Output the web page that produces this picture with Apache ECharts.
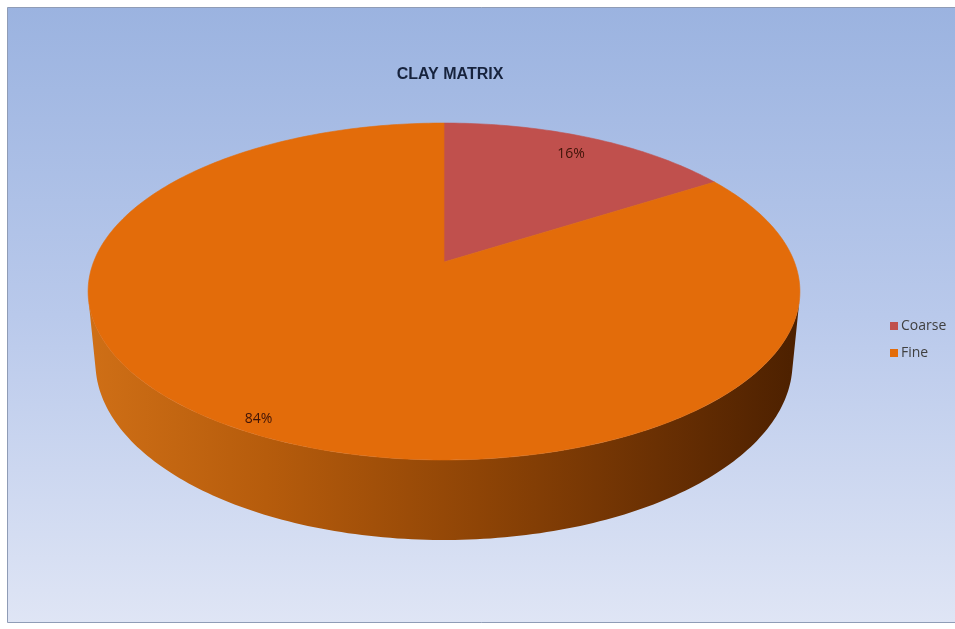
<!DOCTYPE html>
<html>
<head>
<meta charset="utf-8">
<script src="https://cdn.jsdelivr.net/npm/echarts@6/dist/echarts.min.js"></script>
<style>
  html, body { margin: 0; padding: 0; background: #ffffff; }
  #chart { width: 955px; height: 629px; }
</style>
</head>
<body>
<div id="chart"></div>
<script>
// Clay matrix composition
const categories = ['Coarse', 'Fine'];
const shares = [16, 84];
const sliceColors = ['#c0504d', '#e36c0a'];
const chartTitle = 'CLAY MATRIX';

// Perspective view of the disc (tilted cylinder seen from above-front)
const view = {
  cx: 444, cy: 262,      // projected centre of the top face
  fx: 1778, fy: 1806,    // focal scales
  dist: 5.074,           // camera distance in disc radii
  sinT: 0.4588,          // sine of camera elevation
  depth: 0.2267,         // cylinder thickness in disc radii
  labelRadius: [0.85, 0.94]
};
view.cosT = Math.sqrt(1 - view.sinT * view.sinT);

// angle in degrees, clockwise from the far side of the disc
function project(angle, r, h) {
  const a = angle * Math.PI / 180;
  const x = r * Math.sin(a), y = r * Math.cos(a);
  const w = y * view.sinT + h * view.cosT;
  const z = view.dist + y * view.cosT - h * view.sinT;
  return [view.cx + view.fx * x / z, view.cy - view.fy * w / z];
}

function arc(a0, a1, h) {
  const pts = [];
  const n = Math.max(2, Math.ceil(Math.abs(a1 - a0)));
  for (let i = 0; i <= n; i++) pts.push(project(a0 + (a1 - a0) * i / n, 1, h));
  return pts;
}

const total = shares.reduce((s, v) => s + v, 0);
// visible range of the outer wall
const wallLimit = Math.acos(-1 / (view.dist * view.cosT)) * 180 / Math.PI;

function makeRender(idx) {
  return function (params, api) {
    let before = 0;
    for (let i = 0; i < idx; i++) before += shares[i];
    const value = api.value(0);
    const start = before / total * 360;
    const end = start + value / total * 360;
    const children = [];

    // top face
    const top = [project(0, 0, 0)].concat(arc(start, end, 0));
    children.push({
      type: 'polygon', z2: 2,
      shape: { points: top },
      style: { fill: sliceColors[idx], stroke: sliceColors[idx], lineWidth: 0.6 }
    });

    // front wall
    const w0 = Math.max(start, wallLimit), w1 = Math.min(end, 360 - wallLimit);
    if (w1 > w0) {
      const wall = arc(w0, w1, 0).concat(arc(w1, w0, -view.depth));
      children.push({
        type: 'polygon', z2: 1,
        shape: { points: wall },
        style: {
          fill: new echarts.graphic.LinearGradient(0, 0, 1, 0, [
            { offset: 0, color: '#cf6f16' },
            { offset: 0.25, color: '#b65c0c' },
            { offset: 0.55, color: '#8e4406' },
            { offset: 0.8, color: '#6a3003' },
            { offset: 1, color: '#4c2000' }
          ])
        }
      });
    }

    // percentage label
    const mid = (start + end) / 2;
    const lp = project(mid, view.labelRadius[idx], 0);
    children.push({
      type: 'text', z2: 5,
      style: {
        text: Math.round(value / total * 100) + '%',
        x: lp[0], y: lp[1],
        align: 'center', verticalAlign: 'middle',
        fill: '#3e1408',
        font: '14px "Open Sans", sans-serif'
      }
    });
    return { type: 'group', children: children };
  };
}

const chart = echarts.init(document.getElementById('chart'), null, { renderer: 'canvas' });

const option = {
  animation: false,
  graphic: [{
    type: 'rect', z: -10, silent: true,
    shape: { x: 7.5, y: 7.5, width: 950, height: 615 },
    style: {
      fill: new echarts.graphic.LinearGradient(0, 0, 0, 1, [
        { offset: 0, color: '#9bb3e0' },
        { offset: 0.5, color: '#b9c9eb' },
        { offset: 1, color: '#dfe5f5' }
      ]),
      stroke: '#8f9cb6', lineWidth: 1
    }
  }],
  title: {
    text: chartTitle,
    left: 445, top: 62, textAlign: 'center',
    textStyle: {
      fontFamily: 'Liberation Sans Narrow, Liberation Sans, sans-serif',
      fontSize: 16, fontWeight: 'bold', color: '#17233d'
    }
  },
  legend: {
    orient: 'vertical',
    left: 885, top: 314,
    itemWidth: 8, itemHeight: 8, itemGap: 13,
    icon: 'rect',
    data: categories,
    textStyle: { fontFamily: 'Open Sans, sans-serif', fontSize: 14, color: '#404040', padding: [0, 0, 0, -2] }
  },
  series: categories.map((name, i) => ({
    type: 'custom',
    name: name,
    coordinateSystem: 'none',
    itemStyle: { color: sliceColors[i] },
    data: [[shares[i]]],
    renderItem: makeRender(i)
  }))
};

chart.setOption(option);
</script>
</body>
</html>
